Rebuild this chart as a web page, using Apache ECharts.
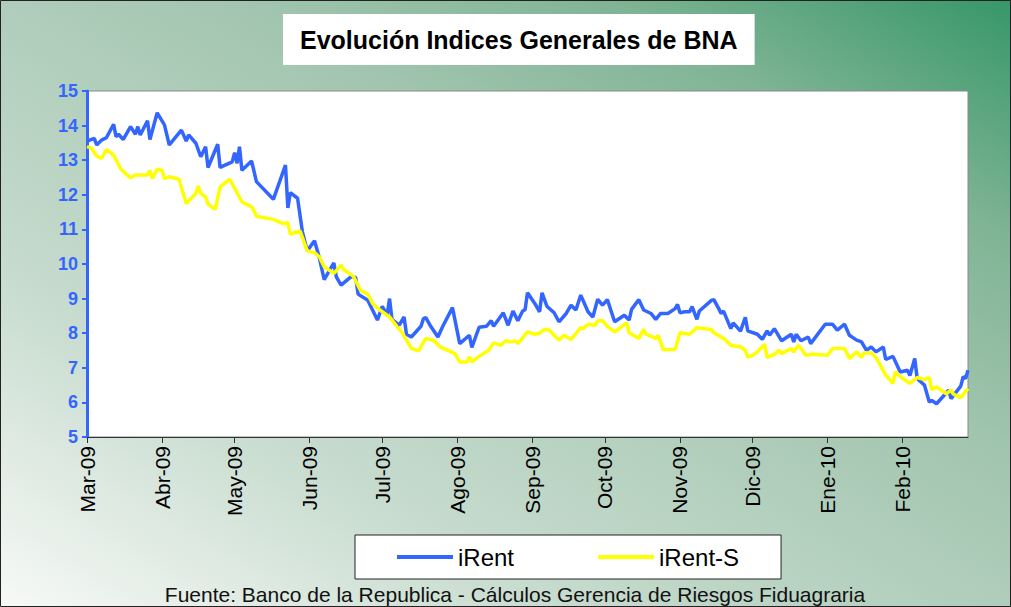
<!DOCTYPE html>
<html>
<head>
<meta charset="utf-8">
<script src="https://cdn.jsdelivr.net/npm/echarts@6/dist/echarts.min.js"></script>
<style>html,body{margin:0;padding:0;}#chart{width:1011px;height:607px;}</style>
</head>
<body>
<div id="chart"></div>
<script>
// Tick labels (month starts)
const monthLabels = ['Mar-09','Abr-09','May-09','Jun-09','Jul-09','Ago-09','Sep-09','Oct-09','Nov-09','Dic-09','Ene-10','Feb-10'];
const monthStarts = ['2009-03-01','2009-04-01','2009-05-01','2009-06-01','2009-07-01','2009-08-01','2009-09-01','2009-10-01','2009-11-01','2009-12-01','2010-01-01','2010-02-01'];
const axisStartDate = '2009-03-01';
const axisEndDate = '2010-02-28';
const yTicks = [5,6,7,8,9,10,11,12,13,14,15];

// iRent: x = days since 2009-03-01
const irentDay = [0,3,4,6,8,11,12,13,15,18,20,21,22,25,26,29,32,34,39,41,42,45,47,49,50,54,55,60,61,62,63,64,68,70,77,82,83,84,87,89,91,94,96,98,102,103,105,109,111,112,116,120,122,124,125,126,129,131,132,134,138,139,140,142,145,147,151,154,158,159,162,165,167,168,172,174,176,178,180,181,182,185,187,188,190,193,195,198,200,202,204,207,209,211,213,215,218,222,224,225,228,230,233,235,237,240,243,244,245,247,249,250,252,253,258,259,261,262,263,266,267,270,272,273,277,279,281,282,284,287,291,292,293,295,298,299,305,308,310,313,315,318,320,322,324,326,329,330,333,336,339,340,342,343,346,348,349,351,356,357,361,362,363,364];
const irent = [13.55,13.63,13.44,13.58,13.65,14.04,13.68,13.75,13.60,13.97,13.75,13.97,13.73,14.14,13.60,14.37,14.02,13.44,13.87,13.55,13.73,13.49,13.10,13.39,12.79,13.46,12.79,12.95,13.22,12.91,13.39,12.71,12.98,12.38,11.87,12.86,11.62,12.06,11.90,10.93,10.38,10.67,10.18,9.55,10.03,9.63,9.39,9.63,9.61,9.13,8.95,8.38,8.78,8.52,9.00,8.40,8.23,8.47,7.97,7.89,8.20,8.42,8.45,8.20,7.89,8.20,8.74,7.70,7.94,7.59,8.17,8.20,8.36,8.20,8.59,8.23,8.64,8.36,8.64,8.68,9.17,8.86,8.62,9.17,8.78,8.59,8.33,8.57,8.81,8.67,9.10,8.62,8.47,8.98,8.81,8.97,8.33,8.52,8.38,8.69,8.97,8.67,8.57,8.40,8.57,8.57,8.71,8.83,8.59,8.62,8.62,8.77,8.40,8.64,8.95,8.97,8.71,8.57,8.64,8.13,8.30,8.06,8.46,8.07,7.97,7.82,8.07,7.94,8.13,7.78,7.97,7.75,7.97,7.78,7.89,7.70,8.26,8.26,8.09,8.26,7.94,7.80,7.75,7.51,7.60,7.46,7.60,7.24,7.33,6.88,6.93,6.78,7.27,6.69,6.50,6.01,6.06,5.96,6.35,6.11,6.47,6.74,6.69,6.93];

// iRent-S: x = days since 2009-03-01
const irentSDay = [0,2,4,6,8,11,14,18,20,25,26,27,29,31,32,34,38,41,45,46,47,49,50,53,55,59,61,64,68,69,70,77,81,83,84,88,91,94,96,98,102,105,106,110,113,116,118,121,125,128,130,134,137,140,143,146,149,152,154,157,158,159,162,166,168,171,173,175,177,178,182,185,187,189,191,193,195,197,200,204,205,207,210,211,213,215,218,223,224,228,230,231,235,236,238,243,245,249,252,258,259,263,266,270,272,273,275,277,280,281,284,286,287,291,292,294,297,300,306,308,313,315,318,320,321,324,326,330,333,334,337,340,343,346,348,349,351,355,357,358,361,364];
const irentS = [13.39,13.34,13.12,13.05,13.31,13.15,12.74,12.49,12.57,12.57,12.71,12.47,12.74,12.71,12.47,12.52,12.45,11.75,12.04,12.25,12.04,11.94,11.73,11.58,12.23,12.45,12.19,11.80,11.65,11.54,11.38,11.29,11.17,11.19,10.86,10.96,10.38,10.33,10.21,9.92,9.73,9.97,9.84,9.65,9.24,9.13,8.86,8.67,8.47,8.20,8.04,7.56,7.49,7.85,7.80,7.60,7.51,7.41,7.17,7.17,7.31,7.17,7.33,7.51,7.72,7.65,7.78,7.75,7.78,7.70,8.04,7.97,8.00,8.11,8.09,7.94,7.80,7.94,7.82,8.16,8.13,8.26,8.23,8.36,8.36,8.20,8.04,8.30,8.01,7.85,8.11,7.97,7.85,7.94,7.53,7.53,8.01,7.97,8.16,8.11,8.01,7.85,7.65,7.60,7.51,7.31,7.36,7.46,7.68,7.30,7.39,7.51,7.41,7.56,7.46,7.65,7.36,7.39,7.36,7.56,7.56,7.27,7.46,7.30,7.43,7.43,7.30,6.79,6.55,6.88,6.69,6.55,6.72,6.66,6.72,6.37,6.45,6.25,6.35,6.24,6.14,6.40];

const DAY = 86400000;
const base = Date.parse(axisStartDate + 'T00:00:00Z');
const toDay = s => Math.round((Date.parse(s + 'T00:00:00Z') - base) / DAY);
const tickDays = monthStarts.map(toDay);
const maxDay = toDay(axisEndDate);
const labelOf = {};
tickDays.forEach((d, i) => { labelOf[d] = monthLabels[i]; });

const FONT = '"Liberation Sans", Arial, sans-serif';
const BLUE = '#3366ff';
const YELLOW = '#ffff00';

const chart = echarts.init(document.getElementById('chart'), null, {renderer: 'svg'});
chart.setOption({
  animation: false,
  backgroundColor: new echarts.graphic.LinearGradient(0, 1, 1, 0, [
    {offset: 0, color: '#f7f9f7'},
    {offset: 0.27, color: '#c8dccf'},
    {offset: 0.62, color: '#a2c5af'},
    {offset: 0.8, color: '#80b495'},
    {offset: 1, color: '#369767'}
  ]),
  title: {
    text: 'Evolución Indices Generales de BNA',
    left: 283, top: 14,
    padding: [13, 17, 13, 17],
    backgroundColor: '#ffffff',
    textStyle: {fontFamily: FONT, fontSize: 25, fontWeight: 'bold', color: '#000'}
  },
  legend: {
    data: ['iRent', 'iRent-S'],
    left: 355, top: 535,
    padding: [10, 42, 10, 42],
    itemGap: 84,
    itemWidth: 56, itemHeight: 4,
    icon: 'rect',
    backgroundColor: '#ffffff',
    borderColor: '#222', borderWidth: 1,
    textStyle: {fontFamily: FONT, fontSize: 24, color: '#000'}
  },
  grid: {
    left: 87, right: 43, top: 91, bottom: 170,
    show: true, backgroundColor: '#ffffff', borderColor: '#8a8a8a', borderWidth: 1
  },
  xAxis: {
    type: 'value', min: 0, max: maxDay,
    axisLine: {show: true, onZero: false, lineStyle: {color: '#333', width: 1}},
    axisTick: {show: true, length: 6, customValues: tickDays, lineStyle: {color: '#333'}},
    axisLabel: {
      customValues: tickDays, rotate: 90, margin: 9,
      fontFamily: FONT, fontSize: 21, color: '#000',
      formatter: v => labelOf[v] || ''
    },
    splitLine: {show: false}
  },
  yAxis: {
    type: 'value', min: yTicks[0], max: yTicks[yTicks.length - 1], interval: 1,
    axisLine: {show: true, lineStyle: {color: BLUE, width: 3}},
    axisTick: {show: true, length: 5, lineStyle: {color: BLUE, width: 2}},
    axisLabel: {margin: 9, fontFamily: FONT, fontSize: 18, fontWeight: 'bold', color: BLUE},
    splitLine: {show: false}
  },
  series: [
    {name: 'iRent', type: 'line', showSymbol: false, color: BLUE,
     lineStyle: {color: BLUE, width: 3.5}, data: irentDay.map((d, i) => [d, irent[i]])},
    {name: 'iRent-S', type: 'line', showSymbol: false, color: YELLOW,
     lineStyle: {color: YELLOW, width: 3.5}, data: irentSDay.map((d, i) => [d, irentS[i]])}
  ],
  graphic: [
    {type: 'rect', shape: {x: 0.5, y: 0.5, width: 1010, height: 606}, style: {fill: 'none', stroke: '#222', lineWidth: 1}, silent: true},
    {type: 'text', x: 515, y: 594, style: {text: 'Fuente: Banco de la Republica - Cálculos Gerencia de Riesgos Fiduagraria', fontFamily: FONT, fontSize: 21, fill: '#111', textAlign: 'center', textVerticalAlign: 'middle'}}
  ]
});
</script>
</body>
</html>
